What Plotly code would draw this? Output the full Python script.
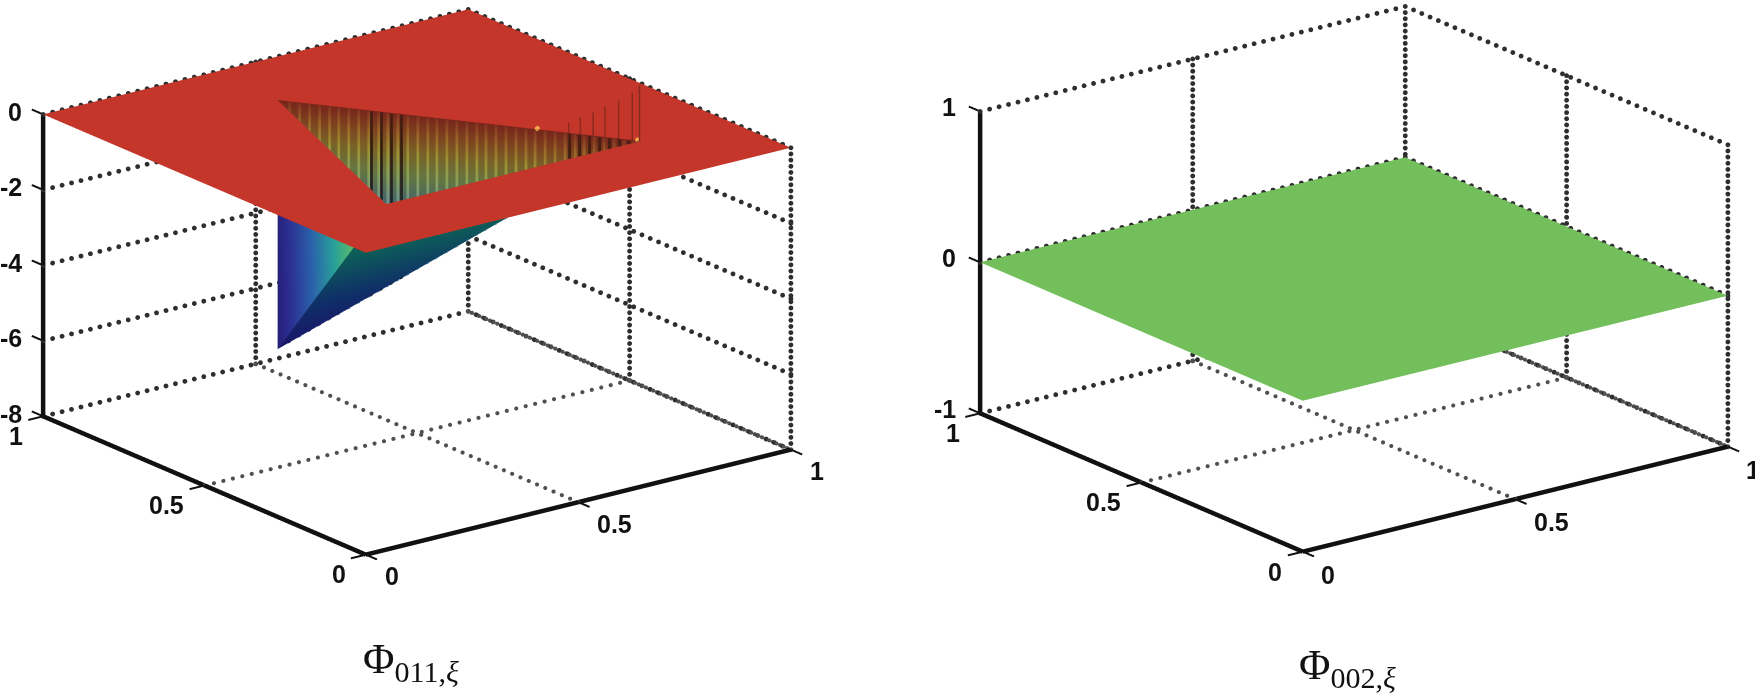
import math
import numpy as np
import plotly.graph_objects as go

# ---------- data ----------
xy_ticks = [0, 0.5, 1]
z_ticks_left = [0, -2, -4, -6, -8]
z_ticks_right = [1, 0, -1]
tri_x = [0.40, 0.80, 0.20]   # P1, P2, P3 of the element
tri_y = [0.80, 0.20, 0.20]
tip_z = -6.6
stripes_light = [0.412,0.423,0.434,0.445,0.456,0.466,0.477,0.488,0.499,0.510,0.520,0.531,0.542,0.553,0.564,
                 0.574,0.585,0.596,0.607,0.618,0.628,0.639,0.650,0.661,0.672,0.682,0.693,0.704,0.715,0.726,
                 0.736,0.747,0.758,0.769,0.780,0.790]
stripes_dark = [0.502,0.513,0.524,0.535,0.720,0.731,0.742,0.753,0.764,0.775,0.785,0.795]
spike_x = [0.720,0.733,0.747,0.760,0.775,0.790,0.798]
spike_h = [0.27,0.45,0.61,0.80,1.00,1.25,1.46]
dots_x = [0.686,0.796]
dots_y = [0.372,0.206]
RED = "#C4352A"
GREEN = "#72BF5B"
az, el = math.radians(37.2), math.radians(19)
EYE = 2.0
N_X, N_Y, N_Y_DENSE = 46, 40, 90

def edge_y(x):
    return 0.8 + (x-0.4)*(0.2-0.8)/0.4
def edge_bottom(x):
    return tip_z*(0.8-x)/0.4

fig = go.Figure()

def frame(scene, zmin, zmax, zticks):
    DX,DY,DZ=[],[],[]
    FX,FY,FZ=[],[],[]
    def dotted(a, b, n, X=DX, Y=DY, Z=DZ):
        X.extend(np.linspace(a[0],b[0],n)); Y.extend(np.linspace(a[1],b[1],n)); Z.extend(np.linspace(a[2],b[2],n))
    def solid(xs, ys, zs, w=9):
        fig.add_trace(go.Scatter3d(x=xs, y=ys, z=zs, mode="lines", line=dict(color="#111111", width=w), scene=scene, hoverinfo="skip", showlegend=False))
    for z in zticks:
        dotted((0,1,z),(1,1,z),N_X)
        dotted((1,1,z),(1,0,z),N_Y)
    for p in xy_ticks[1:]:
        dotted((p,1,zmin),(p,1,zmax),50)
        dotted((1,1-p,zmin),(1,1-p,zmax),50)
    dotted((0.5,0,zmin),(0.5,1,zmin),N_Y,FX,FY,FZ)
    dotted((0,0.5,zmin),(1,0.5,zmin),N_X,FX,FY,FZ)
    dotted((1,0,zmin),(1,1,zmin),N_Y_DENSE,FX,FY,FZ)
    fig.add_trace(go.Scatter3d(x=DX,y=DY,z=DZ,mode="markers",marker=dict(color="#2e2e2e",size=2.8,line=dict(width=0)),scene=scene,hoverinfo="skip",showlegend=False))
    fig.add_trace(go.Scatter3d(x=FX,y=FY,z=FZ,mode="markers",marker=dict(color="#505050",size=2.4,line=dict(width=0)),scene=scene,hoverinfo="skip",showlegend=False))
    solid([0,0],[1,1],[zmin,zmax])
    solid([0,0],[0,1],[zmin,zmin])
    solid([0,1],[0,0],[zmin,zmin])
    for z in zticks:
        solid([0,0],[1,1.035],[z,z],4)
    for p in xy_ticks:
        solid([p,p],[0,-0.035],[zmin,zmin],4)
        solid([0,-0.035],[p,p],[zmin,zmin],4)

# ---------- left panel ----------
frame("scene", -8, 0, z_ticks_left)
light = dict(ambient=1,diffuse=0,specular=0,roughness=1,fresnel=0)
fig.add_trace(go.Mesh3d(
    x=[0,1,1,0]+tri_x, y=[0,0,1,1]+tri_y, z=[0]*7,
    i=[0,0,1,2,2,3,3], j=[1,5,2,4,3,6,0], k=[5,6,5,5,4,4,6],
    color=RED, flatshading=True, scene="scene", hoverinfo="skip", lighting=light))
px,py = tri_x, tri_y
# wall under edge P1-P2 (seen through the hole)
fig.add_trace(go.Mesh3d(x=[px[0],px[1],px[0]], y=[py[0],py[1],py[0]], z=[0,0,tip_z], i=[0],j=[1],k=[2],
    intensity=[0,0,tip_z], cmin=tip_z, cmax=0, showscale=False, scene="scene", hoverinfo="skip", lighting=light,
    colorscale=[[0,"#1d1a6e"],[0.45,"#2a4a80"],[0.62,"#3f6272"],[0.76,"#66763f"],[0.86,"#7a5f26"],[0.94,"#7d3d1e"],[1,"#76261a"]]))
# wall under edge P1-P3 (seen from the front, below the plate): colour runs sideways
fig.add_trace(go.Mesh3d(x=[px[0],px[2],px[0]], y=[py[0],py[2],py[0]], z=[0,0,tip_z], i=[0],j=[1],k=[2],
    intensity=[-6.3,0,tip_z], cmin=tip_z, cmax=0, showscale=False, scene="scene", hoverinfo="skip", lighting=light,
    colorscale=[[0,"#241f78"],[0.12,"#2c2f92"],[0.32,"#2a62aa"],[0.52,"#28a09a"],[0.70,"#5cbc66"],[1,"#a8c040"]]))
# sloping under-side
fig.add_trace(go.Mesh3d(x=[px[1],px[2],px[0]], y=[py[1],py[2],py[0]], z=[0,0,tip_z], i=[0],j=[1],k=[2],
    intensity=[0,0,tip_z], cmin=tip_z, cmax=0, showscale=False, scene="scene", hoverinfo="skip", lighting=light,
    colorscale=[[0,"#1a1568"],[0.3,"#0f2f68"],[0.65,"#0d5f58"],[1,"#1a6e3a"]]))
# vertical streaks on the wall
def ribbons(xs, width, scale):
    X,Y,Z,I,J,K,C=[],[],[],[],[],[],[]
    for x in xs:
        n=len(X)
        for xx,zz in ((x,0),(x+width,0),(x+width,edge_bottom(x+width)),(x,edge_bottom(x))):
            X.append(xx-0.003);Y.append(edge_y(xx)-0.003);Z.append(zz);C.append(zz)
        I+=[n,n];J+=[n+1,n+2];K+=[n+2,n+3]
    fig.add_trace(go.Mesh3d(x=X,y=Y,z=Z,i=I,j=J,k=K,intensity=C,cmin=tip_z,cmax=0,colorscale=scale,showscale=False,
                            scene="scene",hoverinfo="skip",lighting=light))
ribbons(stripes_light,0.003,[[0,"#1d1a6e"],[0.4,"#3a6a98"],[0.62,"#6a8c98"],[0.74,"#85a060"],[0.84,"#9a9435"],[0.93,"#9a6528"],[1,"#843522"]])
ribbons(stripes_dark,0.003,[[0,"#10102a"],[0.6,"#1c2630"],[0.85,"#33200f"],[1,"#4a1c12"]])
X,Y,Z=[],[],[]
for x,h in zip(spike_x,spike_h):
    X+=[x,x,None]; Y+=[edge_y(x),edge_y(x),None]; Z+=[0,h,None]
fig.add_trace(go.Scatter3d(x=X,y=Y,z=Z,mode="lines",line=dict(color="#8a2a1e",width=3),scene="scene",hoverinfo="skip",showlegend=False))
fig.add_trace(go.Scatter3d(x=dots_x,y=dots_y,z=[0.02,0.02],mode="markers",marker=dict(color="#f2a54a",size=3),scene="scene",hoverinfo="skip",showlegend=False))

# ---------- right panel ----------
frame("scene2", -1, 1, z_ticks_right)
fig.add_trace(go.Mesh3d(x=[0,1,1,0], y=[0,0,1,1], z=[0,0,0,0], i=[0,0], j=[1,2], k=[2,3],
    color=GREEN, flatshading=True, scene="scene2", hoverinfo="skip", lighting=light))

def tick_annos(zticks, zmin, zs, ys, xs):
    font = dict(family="Liberation Sans", size=25, color="#111111")
    out=[]
    def a(x,y,z,t,shift,anchor):
        out.append(dict(x=x,y=y,z=z,text=f"<b>{t}</b>",showarrow=False,xshift=shift[0],yshift=shift[1],xanchor=anchor,yanchor="middle",font=font))
    for z in zticks:
        a(0,1,z,z,zs,"right")
    for p in xy_ticks:
        a(p,0,zmin,p,xs,"left")
        a(0,p,zmin,p,ys,"right")
    return out

W,H=1755,698
scene_common = dict(bgcolor="white", aspectmode="manual")
def axis(rng):
    return dict(visible=False, range=rng, showgrid=False, zeroline=False, showspikes=False)
cam = dict(projection=dict(type="orthographic"), up=dict(x=0,y=0,z=1), center=dict(x=0,y=0,z=0),
           eye=dict(x=-EYE*math.sin(az)*math.cos(el), y=-EYE*math.cos(az)*math.cos(el), z=EYE*math.sin(el)))
fig.update_layout(
    width=W,height=H,margin=dict(l=0,r=0,t=0,b=0),paper_bgcolor="white",showlegend=False,
    scene=dict(**scene_common, domain=dict(x=[17/W,817/W],y=[1-559.5/H,1-3.5/H]),
        xaxis=axis([-0.06,1.06]),yaxis=axis([-0.06,1.06]),zaxis=axis([-9.6,1.6]),
        aspectratio=dict(x=2.15,y=2.15,z=1.608), camera=cam,
        annotations=tick_annos(z_ticks_left,-8,(-19.5,2),(-18,-20),(17,-22))),
    scene2=dict(**scene_common, domain=dict(x=[953.5/W,1753.5/W],y=[1-557/H,1-1/H]),
        xaxis=axis([-0.06,1.06]),yaxis=axis([-0.06,1.06]),zaxis=axis([-1.05,1.05]),
        aspectratio=dict(x=2.15,y=2.15,z=1.206), camera=cam,
        annotations=tick_annos(z_ticks_right,-1,(-22,4),(-18,-20),(17,-23))),
    annotations=[
        dict(x=411/W,y=1-662/H,xref="paper",yref="paper",showarrow=False,xanchor="center",yanchor="middle",
             text="Φ<sub>011,<i>ξ</i></sub>",font=dict(family="Liberation Serif",size=43,color="#111111")),
        dict(x=1347/W,y=1-668/H,xref="paper",yref="paper",showarrow=False,xanchor="center",yanchor="middle",
             text="Φ<sub>002,<i>ξ</i></sub>",font=dict(family="Liberation Serif",size=43,color="#111111")),
    ])
fig.write_html("out.html", post_script="document.body.style.margin='0';", config=dict(displayModeBar=False))
